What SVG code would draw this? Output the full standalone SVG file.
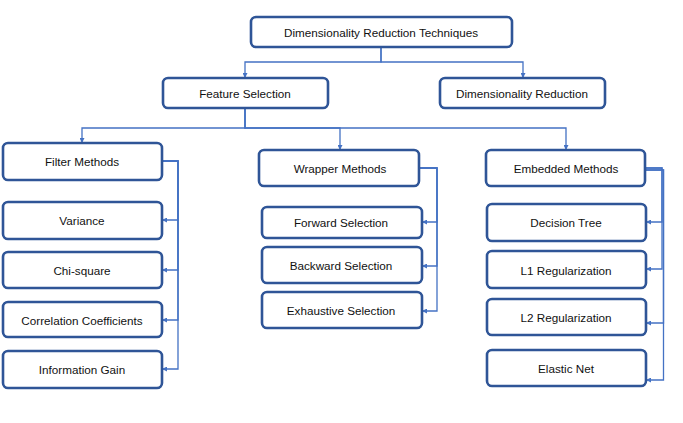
<svg xmlns="http://www.w3.org/2000/svg" width="683" height="423" viewBox="0 0 683 423">
<defs>
<marker id="arr" viewBox="0 0 10 10" refX="10" refY="5" markerWidth="5" markerHeight="5" orient="auto" markerUnits="userSpaceOnUse">
<path d="M0,0 L10,5 L0,10 z" fill="#4472C4"/>
</marker>
<style>
.box{fill:#fff;stroke:#2F5597;stroke-width:2.6}
.lbl{font-family:"Liberation Sans",Arial,sans-serif;font-size:11.7px;fill:#111;text-anchor:middle;dominant-baseline:central}
.c{fill:none;stroke:#4472C4;stroke-width:1.3;marker-end:url(#arr)}
</style>
</defs>
<rect width="683" height="423" fill="#fff"/>
<g id="connectors">
<path class="c" d="M381,47 V62 H245 V78"/>
<path class="c" d="M381,47 V62 H523 V78"/>
<path class="c" d="M245,108 V128 H82 V143"/>
<path class="c" d="M245,108 V128 H340 V150"/>
<path class="c" d="M245,108 V128 H566 V150"/>
<path class="c" d="M162,161 H178 V220 H162"/>
<path class="c" d="M162,161 H178 V270 H162"/>
<path class="c" d="M162,161 H178 V320 H162"/>
<path class="c" d="M162,161 H178 V369 H162"/>
<path class="c" d="M419,168 H437 V222 H422"/>
<path class="c" d="M419,168 H437 V266 H422"/>
<path class="c" d="M419,168 H437 V311 H422"/>
<path class="c" d="M645,168 H662 V222 H646"/>
<path class="c" d="M645,168 H662 V269 H646"/>
<path class="c" d="M645,170 H663.5 V323 H646"/>
<path class="c" d="M645,170 H663.5 V380 H646"/>
</g>
<g id="root"><rect class="box" x="251" y="17" width="261" height="30" rx="5"/><text class="lbl" x="381" y="32">Dimensionality Reduction Techniques</text></g>
<g id="feature-selection"><rect class="box" x="163" y="78" width="165" height="30" rx="5"/><text class="lbl" x="245" y="93">Feature Selection</text></g>
<g id="dimensionality-reduction"><rect class="box" x="440" y="78" width="165" height="30" rx="5"/><text class="lbl" x="522" y="93">Dimensionality Reduction</text></g>
<g id="filter-methods"><rect class="box" x="3" y="143" width="159" height="37" rx="5"/><text class="lbl" x="82" y="161">Filter Methods</text></g>
<g id="variance"><rect class="box" x="3" y="202" width="159" height="37" rx="5"/><text class="lbl" x="82" y="220">Variance</text></g>
<g id="chi-square"><rect class="box" x="3" y="252" width="159" height="36" rx="5"/><text class="lbl" x="82" y="270">Chi-square</text></g>
<g id="correlation"><rect class="box" x="3" y="302" width="159" height="35" rx="5"/><text class="lbl" x="82" y="320">Correlation Coefficients</text></g>
<g id="information-gain"><rect class="box" x="3" y="351" width="159" height="37" rx="5"/><text class="lbl" x="82" y="369">Information Gain</text></g>
<g id="wrapper-methods"><rect class="box" x="259" y="150" width="160" height="36" rx="5"/><text class="lbl" x="340" y="168">Wrapper Methods</text></g>
<g id="forward-selection"><rect class="box" x="262" y="207" width="160" height="31" rx="5"/><text class="lbl" x="341" y="222">Forward Selection</text></g>
<g id="backward-selection"><rect class="box" x="262" y="247" width="160" height="36" rx="5"/><text class="lbl" x="341" y="265">Backward Selection</text></g>
<g id="exhaustive-selection"><rect class="box" x="262" y="292" width="160" height="36" rx="5"/><text class="lbl" x="341" y="310">Exhaustive Selection</text></g>
<g id="embedded-methods"><rect class="box" x="486" y="150" width="159" height="36" rx="5"/><text class="lbl" x="566" y="168">Embedded Methods</text></g>
<g id="decision-tree"><rect class="box" x="487" y="204" width="159" height="37" rx="5"/><text class="lbl" x="566" y="222">Decision Tree</text></g>
<g id="l1"><rect class="box" x="487" y="251" width="159" height="37" rx="5"/><text class="lbl" x="566" y="270">L1 Regularization</text></g>
<g id="l2"><rect class="box" x="487" y="299" width="159" height="36" rx="5"/><text class="lbl" x="566" y="317">L2 Regularization</text></g>
<g id="elastic-net"><rect class="box" x="487" y="350" width="159" height="36" rx="5"/><text class="lbl" x="566" y="368">Elastic Net</text></g>
</svg>
